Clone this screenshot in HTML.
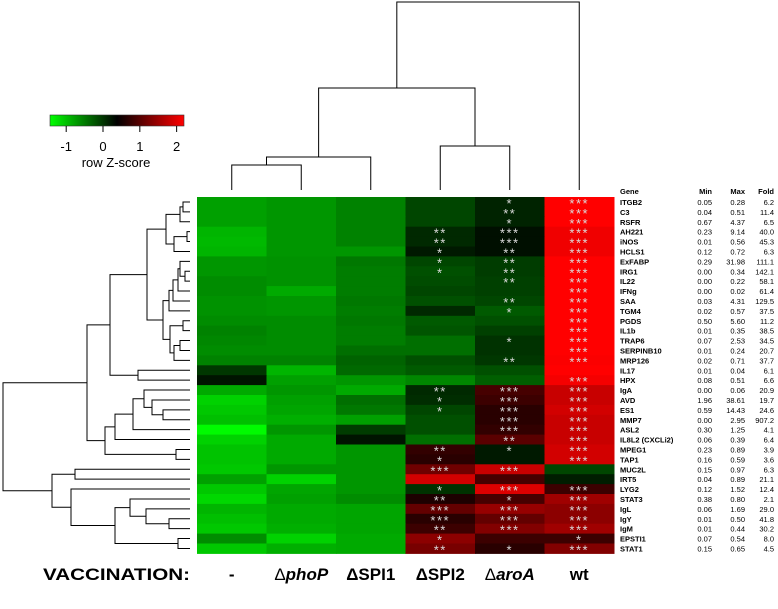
<!DOCTYPE html>
<html><head><meta charset="utf-8"><style>
html,body{margin:0;padding:0;background:#fff;}
svg{display:block;font-family:"Liberation Sans",Arial,sans-serif;}
</style></head><body>
<svg id="chart" width="778" height="609" viewBox="0 0 778 609"></svg>
<script>
const genes=["ITGB2","C3","RSFR","AH221","iNOS","HCLS1","ExFABP","IRG1","IL22","IFNg","SAA","TGM4","PGDS","IL1b","TRAP6","SERPINB10","MRP126","IL17","HPX","IgA","AVD","ES1","MMP7","ASL2","IL8L2 (CXCLi2)","MPEG1","TAP1","MUC2L","IRT5","LYG2","STAT3","IgL","IgY","IgM","EPSTI1","STAT1"];
const minVals=["0.05","0.04","0.67","0.23","0.01","0.12","0.29","0.00","0.00","0.00","0.03","0.02","0.50","0.01","0.07","0.01","0.02","0.01","0.08","0.00","1.96","0.59","0.00","0.30","0.06","0.23","0.16","0.15","0.04","0.12","0.38","0.06","0.01","0.01","0.07","0.15"];
const maxVals=["0.28","0.51","4.37","9.14","0.56","0.72","31.98","0.34","0.22","0.02","4.31","0.57","5.60","0.35","2.53","0.24","0.71","0.04","0.51","0.06","38.61","14.43","2.95","1.25","0.39","0.89","0.59","0.97","0.89","1.52","0.80","1.69","0.50","0.44","0.54","0.65"];
const foldVals=["6.2","11.4","6.5","40.0","45.3","6.3","111.1","142.1","58.1","61.4","129.5","37.5","11.2","38.5","34.5","20.7","37.7","6.1","6.6","20.9","19.7","24.6","907.2","4.1","6.4","3.9","3.6","6.3","21.1","12.4","2.1","29.0","41.8","30.2","8.0","4.5"];
const groups=["-","phoP","SPI1","SPI2","aroA","wt"];
const zScores=[
[-0.76,-0.69,-0.55,-0.12,0.13,2.2],[-0.76,-0.69,-0.55,-0.12,0.13,2.2],[-0.76,-0.69,-0.55,-0.12,0.13,2.2],
[-0.91,-0.69,-0.55,0.09,0.27,2.09],[-0.94,-0.69,-0.55,0.09,0.27,2.09],[-0.91,-0.69,-0.69,0.20,0.27,2.09],
[-0.69,-0.66,-0.48,-0.12,-0.05,2.2],[-0.69,-0.66,-0.51,-0.19,-0.05,2.2],[-0.62,-0.66,-0.51,-0.16,-0.08,2.2],
[-0.62,-0.83,-0.51,-0.12,-0.08,2.2],[-0.66,-0.69,-0.48,-0.19,-0.12,2.2],[-0.66,-0.69,-0.51,0.09,-0.26,2.2],
[-0.62,-0.62,-0.48,-0.26,-0.19,2.2],[-0.55,-0.62,-0.51,-0.23,-0.08,2.2],[-0.58,-0.62,-0.51,-0.41,0.02,2.2],
[-0.62,-0.62,-0.41,-0.41,0.02,2.2],[-0.55,-0.55,-0.33,-0.19,-0.01,2.17],[-0.01,-0.91,-0.37,-0.26,-0.19,2.2],
[0.24,-0.76,-0.69,-0.58,-0.30,2.13],[-0.83,-0.69,-0.83,0.09,0.88,1.81],[-1.12,-0.76,-0.41,0.06,0.81,1.81],
[-1.05,-0.80,-0.48,-0.12,0.67,1.88],[-0.98,-0.87,-0.76,-0.19,0.67,1.81],[-1.41,-0.69,-0.05,-0.19,0.74,1.81],
[-1.12,-0.83,0.24,-0.41,1.02,1.81],[-1.01,-0.83,-0.69,0.74,0.20,1.88],[-1.01,-0.83,-0.69,0.67,0.20,1.88],
[-1.05,-0.69,-0.69,1.17,1.81,-0.12],[-0.76,-1.12,-0.69,1.88,0.88,0.17],[-1.05,-0.80,-0.69,0.02,1.95,0.81],
[-1.16,-0.76,-0.62,0.59,0.88,1.52],[-0.91,-0.83,-0.80,1.09,1.45,1.38],[-0.98,-0.83,-0.80,0.67,1.09,1.38],
[-1.05,-0.87,-0.80,0.81,1.31,1.52],[-0.62,-1.12,-0.83,1.38,0.81,0.81],[-1.05,-0.87,-0.83,1.24,0.67,1.31]];
const stars=[
[0,0,0,0,1,3],[0,0,0,0,2,3],[0,0,0,0,1,3],[0,0,0,2,3,3],[0,0,0,2,3,3],[0,0,0,1,2,3],[0,0,0,1,2,3],[0,0,0,1,2,3],
[0,0,0,0,2,3],[0,0,0,0,0,3],[0,0,0,0,2,3],[0,0,0,0,1,3],[0,0,0,0,0,3],[0,0,0,0,0,3],[0,0,0,0,1,3],[0,0,0,0,0,3],
[0,0,0,0,2,3],[0,0,0,0,0,0],[0,0,0,0,0,3],[0,0,0,2,3,3],[0,0,0,1,3,3],[0,0,0,1,3,3],[0,0,0,0,3,3],[0,0,0,0,3,3],
[0,0,0,0,2,3],[0,0,0,2,1,3],[0,0,0,1,0,3],[0,0,0,3,3,0],[0,0,0,0,0,0],[0,0,0,1,3,3],[0,0,0,2,1,3],[0,0,0,3,3,3],
[0,0,0,3,3,3],[0,0,0,2,3,3],[0,0,0,1,0,1],[0,0,0,2,1,3]];
const legendTicks=[-1,0,1,2];
// row dendrogram: [left,right,height]
const tA=[[[0,1,183],2,180],[[3,4,187],5,174],166];
const tB1=[[[[6,[7,8,185],180],9,178],10,173],11,169];
const tB2=[[12,13,183],[[14,15,180],16,174],170];
const tAB=[tA,[tB1,tB2,163],147];
const tTop1=[tAB,[17,18,138],110];
const tC=[[[19,[20,[21,22,163],152],144],23,133],24,115];
const tC2=[tC,[25,26,176],105];
const tTop=[tTop1,tC2,87];
const tE=[[30,[31,[32,33,169],146],130],[34,35,178],115];
const tD=[[27,28,75],[29,tE,71],52];
const rowTree=[tTop,tD,3];
const colTree=[[[[0,1,165],2,157],[3,4,146],88],5,2];

const svg=document.getElementById('chart');
const NS='http://www.w3.org/2000/svg';
function mk(tag,attrs,parent){const e=document.createElementNS(NS,tag);for(const k in attrs)e.setAttribute(k,attrs[k]);(parent||svg).appendChild(e);return e;}
const X0=197,Y0=197,CW=69.5,RH=9.9,ZMIN=-1.44,ZMAX=2.2,ZMID=0.38;
const colX=c=>X0+c*CW, rowY=r=>Y0+r*RH;
function zColor(z){
  if(z<ZMID){const g=Math.max(0,Math.min(255,Math.round((ZMID-z)/(ZMID-ZMIN)*255)));return `rgb(0,${g},0)`;}
  const r=Math.max(0,Math.min(255,Math.round((z-ZMID)/(ZMAX-ZMID)*255)));return `rgb(${r},0,0)`;
}
const legX=z=>50+(z-ZMIN)/(ZMAX-ZMIN)*134;

const cellG=mk('g',{});


zScores.forEach((row,r)=>row.forEach((z,c)=>{
  const rc=mk('rect',{x:colX(c),y:rowY(r),width:CW+0.5,height:RH+0.5,fill:zColor(z)},cellG);
  
  
  const n=stars[r][c];
  if(n>0){
    const t=mk('text',{x:colX(c)+CW/2,y:rowY(r)+RH/2+6,'text-anchor':'middle','font-size':'13','fill':'#dcdcdc','letter-spacing':'1.5'},cellG);
    t.textContent='*'.repeat(n);
    
    
  }
}));

const dg=mk('g',{stroke:'#000','stroke-width':'1',fill:'none'});


function drawRow(n){
  if(typeof n==='number')return {y:rowY(n)+RH/2,x:190};
  const a=drawRow(n[0]),b=drawRow(n[1]),h=n[2];
  mk('path',{d:`M${a.x},${a.y}H${h}V${b.y}H${b.x}`},dg);
  return {y:(a.y+b.y)/2,x:h};
}
drawRow(rowTree);
const cg=mk('g',{stroke:'#000','stroke-width':'1',fill:'none'});


function drawCol(n){
  if(typeof n==='number')return {x:colX(n)+CW/2,y:190};
  const a=drawCol(n[0]),b=drawCol(n[1]),h=n[2];
  mk('path',{d:`M${a.x},${a.y}V${h}H${b.x}V${b.y}`},cg);
  return {x:(a.x+b.x)/2,y:h};
}
drawCol(colTree);

const lg=mk('g',{});


const defs=mk('defs',{});
const grad=mk('linearGradient',{id:'gk',x1:'0',x2:'1',y1:'0',y2:'0'},defs);
mk('stop',{offset:'0','stop-color':'#00ff00'},grad);
mk('stop',{offset:String((ZMID-ZMIN)/(ZMAX-ZMIN)),'stop-color':'#000'},grad);
mk('stop',{offset:'1','stop-color':'#ff0000'},grad);
mk('rect',{x:50,y:115,width:134,height:11,fill:'url(#gk)',stroke:'#333','stroke-width':'0.6'},lg);
legendTicks.forEach(v=>{
  mk('line',{x1:legX(v),x2:legX(v),y1:126,y2:132,stroke:'#000','stroke-width':'1'},lg);
  const t=mk('text',{x:legX(v),y:151,'text-anchor':'middle','font-size':'13'},lg);
  t.textContent=v;
  
  
});
const lt=mk('text',{x:116,y:167,'text-anchor':'middle','font-size':'13'},lg);
lt.textContent='row Z-score';



const tg=mk('g',{'font-size':'7.5'});


function tx(x,y,s,anchor,bold,name){const t=mk('text',{x:x,y:y,'text-anchor':anchor,'font-weight':bold?'bold':'normal'},tg);t.textContent=s;return t;}
const hy=rowY(0)-3;
tx(620,hy,'Gene','start',true,'table-header-gene');
tx(712,hy,'Min','end',true,'table-header-min');
tx(745,hy,'Max','end',true,'table-header-max');
tx(774,hy,'Fold','end',true,'table-header-fold');
genes.forEach((g,i)=>{
  const y=rowY(i)+RH/2+3;
  tx(620,y,g,'start',true,'gene-label');
  tx(712,y,minVals[i],'end',false,'min-value');
  tx(745,y,maxVals[i],'end',false,'max-value');
  tx(774,y,foldVals[i],'end',false,'fold-value');
});

const bg=mk('g',{'font-size':'17','font-weight':'bold'});


const vt=mk('text',{x:43,y:580,'textLength':'147','lengthAdjust':'spacingAndGlyphs'},bg);
vt.textContent='VACCINATION:';


const labelParts=[['-',null],['Δ','phoP'],['ΔSPI1',null],['ΔSPI2',null],['Δ','aroA'],['wt',null]];
labelParts.forEach((l,c)=>{
  const t=mk('text',{x:colX(c)+CW/2,y:580,'text-anchor':'middle'},bg);
  if(l[1]){
    const a=mk('tspan',{'font-weight':'normal'},t);a.textContent=l[0];
    const b=mk('tspan',{'font-style':'italic'},t);b.textContent=l[1];
  } else t.textContent=l[0];
  
  
});
</script>
</body></html>
